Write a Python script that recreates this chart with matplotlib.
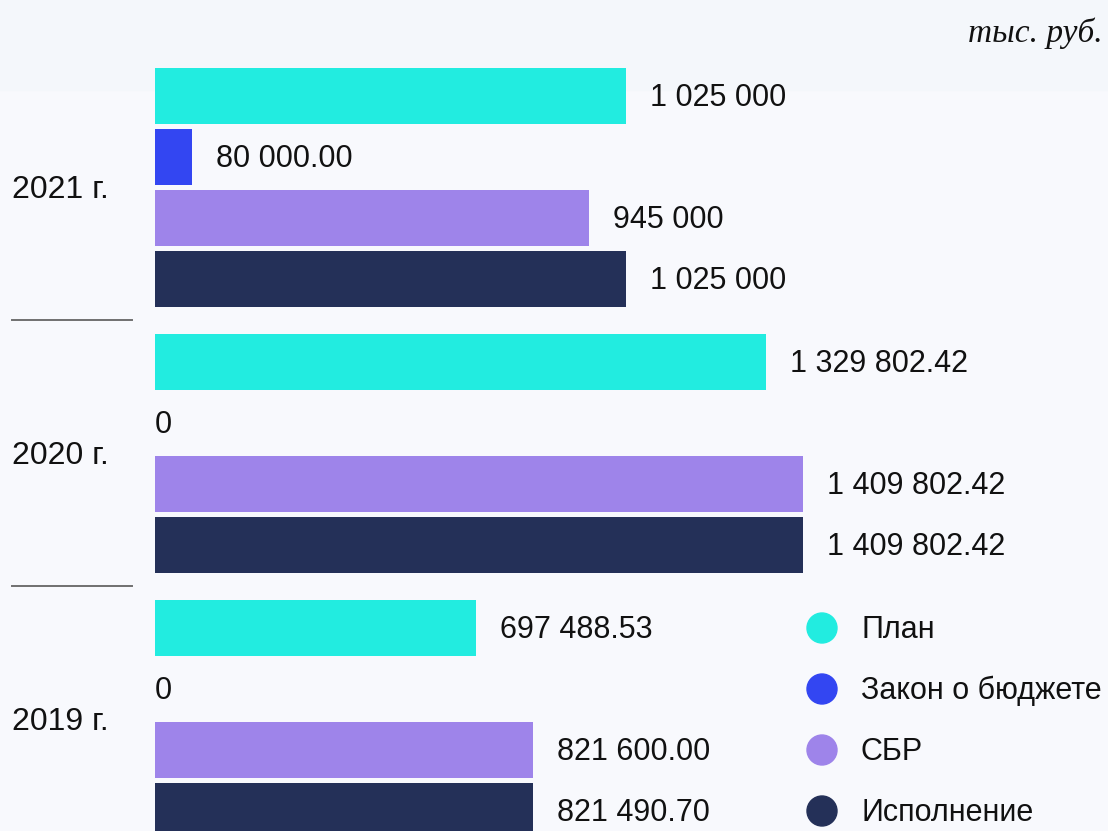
import matplotlib.pyplot as plt
from matplotlib.patches import Circle, Rectangle

plt.rcParams['font.family'] = ['Liberation Sans', 'DejaVu Sans']

# data
years = ['2021 г.', '2020 г.', '2019 г.']
series = ['План', 'Закон о бюджете', 'СБР', 'Исполнение']
colors = ['#22ece0', '#3346f2', '#9e84ea', '#243058']

values = [
    [1025000.00, 80000.00, 945000.00, 1025000.00],
    [1329802.42, 0.00, 1409802.42, 1409802.42],
    [697488.53, 0.00, 821600.00, 821490.70],
]
labels = [
    ['1 025 000', '80 000.00', '945 000', '1 025 000'],
    ['1 329 802.42', '0', '1 409 802.42', '1 409 802.42'],
    ['697 488.53', '0', '821 600.00', '821 490.70'],
]

W, H = 1108, 831
BG = '#f8f9fd'
FS = 22

fig = plt.figure(figsize=(W / 100, H / 100), dpi=100, facecolor=BG)

# overlay in pixel coordinates for background band, year labels, separators, legend
ov = fig.add_axes([0, 0, 1, 1])
ov.set_facecolor('none')
ov.set_xlim(0, W)
ov.set_ylim(H, 0)
ov.axis('off')
ov.add_patch(Rectangle((0, 0), W, 90, color='#f4f7fb', zorder=0))

# bar axes: starts at x=155 px, full height in pixel rows
ax = fig.add_axes([155 / W, 0, 1 - 155 / W, 1])
ax.set_facecolor('none')
xmax = 1409802.42 * (W - 155) / 648
ax.set_xlim(0, xmax)
ax.set_ylim(H, 0)
ax.axis('off')

group_step = 266
bar_step = 61
first_center = 96
bar_h = 56
px_per_unit = 648 / 1409802.42

for g, yr in enumerate(years):
    for s in range(4):
        yc = first_center + g * group_step + s * bar_step
        v = values[g][s]
        ax.barh(yc, v, height=bar_h, color=colors[s], left=0)
        off = 24 / px_per_unit if v > 0 else 0
        ax.text(v + off, yc + 2, labels[g][s], va='center', ha='left',
                fontsize=FS, color='#111111')

for g, yr in enumerate(years):
    yc = first_center + g * group_step + 1.5 * bar_step
    ov.text(12, yc + 2, yr, va='center', ha='left', fontsize=23, color='#111111')
    if g > 0:
        ysep = first_center + g * group_step - 42
        ov.plot([12, 132], [ysep, ysep], color='#707070', lw=1.4)

for s, name in enumerate(series):
    yc = 628 + s * bar_step
    ov.add_patch(Circle((822, yc), 15, color=colors[s]))
    ov.text(861, yc + 2, name, va='center', ha='left', fontsize=FS, color='#111111')

ov.text(1103, 33, 'тыс. руб.', va='center', ha='right', fontsize=24,
        family=['Liberation Serif', 'DejaVu Serif'], style='italic', color='#111111')

fig.savefig('out.png', dpi=100, facecolor=BG)
